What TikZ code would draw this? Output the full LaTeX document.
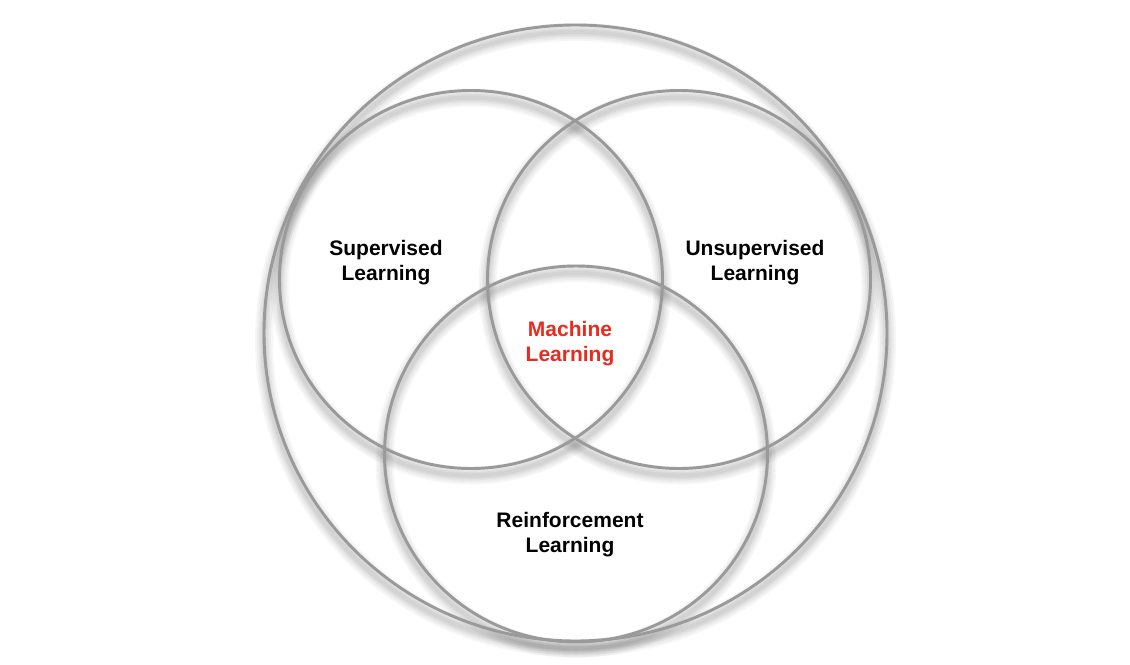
\documentclass[tikz,border=0pt]{standalone}
\usepackage{fontspec}
\setmainfont{Liberation Sans}
\definecolor{ringgray}{HTML}{9A9A9A}
\definecolor{mlred}{HTML}{EA2A1E}
\tikzset{
  ring/.style={draw=ringgray, line width=2.2pt},
  ringshadow/.style={draw=black, opacity=0.035},
  label/.style={font=\bfseries\fontsize{15.75}{18.75}\selectfont, align=center, text=black, inner sep=0pt},
}
\begin{document}
\begin{tikzpicture}[x=0.75pt, y=-0.75pt]
\useasboundingbox[fill=white] (0,0) rectangle (1130,664);
% shadows
\foreach \cx/\cy/\rx/\ry in {575.5/333/311.5/308, 471/279.5/191.5/189, 679/279.5/191.5/189, 576/454/191.5/188}{
  \foreach \w in {18,14,10,7,4}{
    \draw[ringshadow, line width=\w*0.75pt] (\cx,\cy+7) ellipse [x radius=\rx, y radius=\ry];
  }
}
% rings
\draw[ring] (575.5,333) ellipse [x radius=311.5, y radius=308];
\draw[ring] (471,279.5) ellipse [x radius=191.5, y radius=189];
\draw[ring] (679,279.5) ellipse [x radius=191.5, y radius=189];
\draw[ring] (576,454) ellipse [x radius=191.5, y radius=188];
% labels
\node[label] (sup) at (386,263) {Supervised\\Learning};
\node[label] (unsup) at (755,263) {Unsupervised\\Learning};
\node[label, text=mlred] (ml) at (570,344) {Machine\\Learning};
\node[label] (rl) at (570,535) {Reinforcement\\Learning};
\end{tikzpicture}
\end{document}
